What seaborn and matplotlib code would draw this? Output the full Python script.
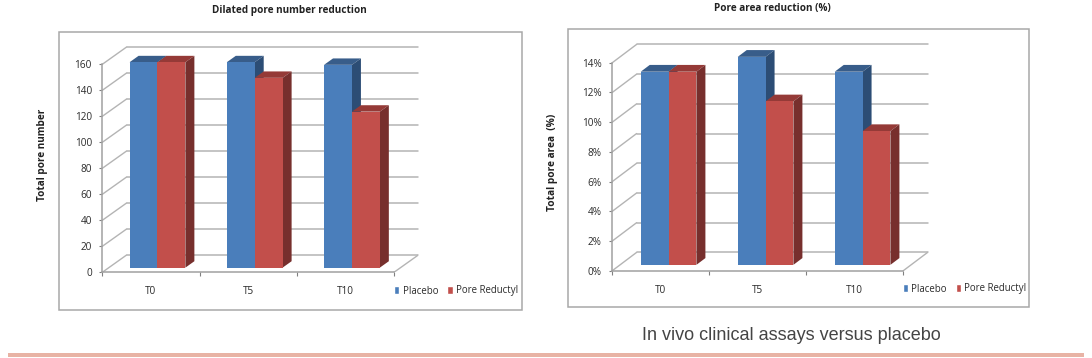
import matplotlib
matplotlib.use('Agg')
import matplotlib.pyplot as plt
import pandas as pd
import seaborn as sns
from matplotlib.patches import Polygon, Rectangle

tiempos = ['T0', 'T5', 'T10']
grupos = ['Placebo', 'Pore Reductyl']

numero_placebo = [158, 158, 156]
numero_reductyl = [158, 146, 120]
numero_ticks = [0, 20, 40, 60, 80, 100, 120, 140, 160]
numero_labels = ['0', '20', '40', '60', '80', '100', '120', '140', '160']

area_placebo = [13, 14, 13]
area_reductyl = [13, 11, 9]
area_ticks = [0, 2, 4, 6, 8, 10, 12, 14]
area_labels = ['0%', '2%', '4%', '6%', '8%', '10%', '12%', '14%']

W, H = 1092, 358
FRONT = ['#4a7ebb', '#c24f4b']
TOP = ['#385d8a', '#953a37']
SIDE = ['#2c4d75', '#772f2d']
GRID = '#b4b4b4'
TEXT = '#2b2b2b'

sns.set_theme(style='white')
plt.rcParams['font.family'] = ['Open Sans', 'DejaVu Sans']

fig = plt.figure(figsize=(W / 100, H / 100), dpi=100)


def fx(px):
    return px / W


def fy(px):
    return 1 - px / H


def caja(x0, y0, x1, y1):
    fig.add_artist(Rectangle((fx(x0), fy(y1)), fx(x1 - x0), (y1 - y0) / H,
                             transform=fig.transFigure, fill=False,
                             edgecolor='#a8a8a8', linewidth=1.1))


def panel(placebo, reductyl, ticks, labels, x0, x1, y0, y_top, dx_px, dy_px, ini, leg_x, leg_y):
    # x0, x1: eje frontal; y0, y_top: 0 y maximo del eje frontal (pixeles)
    cat_w = (x1 - x0) / 3
    unidad = (y0 - y_top) / ticks[-1]
    dx = dx_px / cat_w
    dy = dy_px / unidad

    ax = fig.add_axes([fx(x0), fy(y0), (x1 - x0 + dx_px) / W, (y0 - y_top + dy_px) / H])
    ax.patch.set_alpha(0)

    df = pd.DataFrame({
        'tiempo': tiempos * 2,
        'grupo': [grupos[0]] * 3 + [grupos[1]] * 3,
        'valor': placebo + reductyl,
    })
    sns.barplot(data=df, x='tiempo', y='valor', hue='grupo', order=tiempos,
                hue_order=grupos, palette=FRONT, width=0.574, gap=0, saturation=1,
                ax=ax, zorder=4)

    ax.set_xlim(-0.5, 2.5 + dx)
    ax.set_ylim(0, ticks[-1] + dy)

    # paredes: rejilla al fondo y oblicuas hacia el eje
    for t in ticks:
        ax.plot([-0.5, -0.5 + dx], [t, t + dy], color=GRID, lw=1, zorder=1, clip_on=False)
        ax.plot([-0.5 + dx, 2.5 + dx], [t + dy, t + dy], color=GRID, lw=1.1, zorder=1, clip_on=False)
    ax.plot([2.5, 2.5 + dx], [0, dy], color=GRID, lw=1, zorder=1)

    # falso 3D a partir de las barras de seaborn
    prof = 0.37
    for n, cont in enumerate(ax.containers):
        for bar in cont:
            x = bar.get_x() + ini * dx
            y = ini * dy
            w = bar.get_width()
            h = bar.get_height()
            bar.set_x(x)
            bar.set_y(y)
            bar.set_linewidth(0)
            bar.set_zorder(4 + n * 2)
            ddx, ddy = prof * dx, prof * dy
            ax.add_patch(Polygon([(x, y + h), (x + w, y + h), (x + w + ddx, y + h + ddy), (x + ddx, y + h + ddy)],
                                 facecolor=TOP[n], linewidth=0, zorder=3 + n * 2))
            ax.add_patch(Polygon([(x + w, y), (x + w + ddx, y + ddy), (x + w + ddx, y + h + ddy), (x + w, y + h)],
                                 facecolor=SIDE[n], linewidth=0, zorder=3 + n * 2))

    sns.despine(ax=ax)
    ax.spines['left'].set_bounds(0, ticks[-1])
    ax.spines['bottom'].set_bounds(-0.5, 2.5)
    for s in ['left', 'bottom']:
        ax.spines[s].set_color('#a0a0a0')
        ax.spines[s].set_linewidth(1.1)

    ax.set_yticks(ticks, labels)
    ax.tick_params(axis='y', length=2.5, width=0.8, color='#808080', pad=5, labelsize=7.2,
                   labelcolor=TEXT, left=True)
    ax.set_xticks([0, 1, 2], tiempos)
    ax.set_xticks([-0.5, 0.5, 1.5, 2.5], minor=True)
    ax.tick_params(axis='x', which='major', length=0, pad=10, labelsize=7.2, labelcolor=TEXT)
    ax.tick_params(axis='x', which='minor', length=3, width=0.8, color='#808080', bottom=True)
    ax.set_xlabel('')
    ax.set_ylabel('')

    sns.move_legend(ax, 'center left', bbox_to_anchor=(fx(leg_x), fy(leg_y)),
                    bbox_transform=fig.transFigure, ncols=2, title=None, frameon=False,
                    fontsize=6.9, handlelength=0.55, handleheight=0.85, handletextpad=0.35,
                    columnspacing=0.95, borderpad=0, borderaxespad=0, labelcolor=TEXT)
    return ax


caja(59.3, 32.3, 521.7, 310.3)
panel(numero_placebo, numero_reductyl, numero_ticks, numero_labels,
      102.3, 394, 272.3, 64.3, 24.3, 17.3, 0.27, 394, 291)
fig.text(fx(289), fy(10), 'Dilated pore number reduction', ha='center', va='center',
         fontsize=7.2, fontweight='bold', color='#222222')
fig.text(fx(43), fy(154.6), 'Total pore number', ha='center', va='center', rotation=90,
         fontsize=7.2, fontweight='bold', color='#222222')

caja(568.3, 29.3, 1029.3, 307.3)
panel(area_placebo, area_reductyl, area_ticks, area_labels,
      612.3, 903.3, 270.7, 62.7, 24.3, 18.3, 0.32, 902.5, 289)
fig.text(fx(772.7), fy(8), 'Pore area reduction (%)', ha='center', va='center',
         fontsize=7.2, fontweight='bold', color='#222222')
fig.text(fx(552), fy(162), 'Total pore area  (%)', ha='center', va='center', rotation=90,
         fontsize=7.3, fontweight='bold', color='#222222')

fig.text(fx(791), fy(335.5), 'In vivo clinical assays versus placebo', ha='center', va='center',
         fontsize=13, color='#444444', family=['Liberation Sans', 'DejaVu Sans'])

fig.add_artist(Rectangle((fx(8), fy(357)), fx(1076), 4 / H, transform=fig.transFigure,
                         facecolor='#e8b3a5', edgecolor='none'))

fig.savefig('out.png', dpi=100, facecolor='white')
